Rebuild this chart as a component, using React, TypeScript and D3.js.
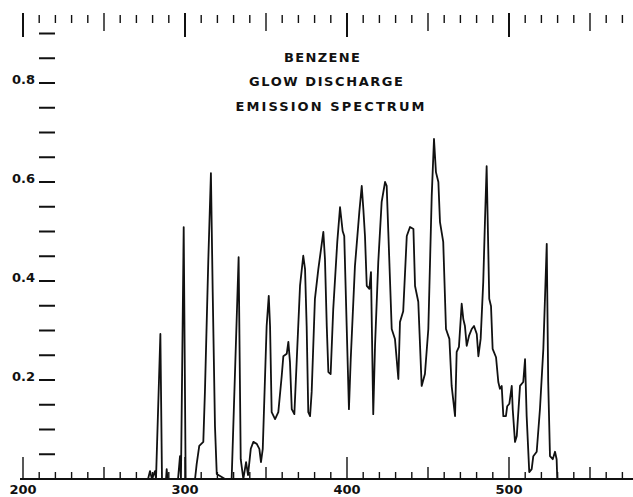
import React from "react";
import * as d3 from "d3";

// Wavelength (nm) of traced points of the emission trace
const wavelength = [
  200, 277.2, 278.4, 279.6, 281.5, 282.1, 284.8, 285.8, 288.3, 288.7, 289.2,
  295.7, 296.9, 297.5, 299.2, 300.4, 306.2, 307.2, 308.8, 311.3, 312.3, 314.4,
  316.0, 317.1, 318.5, 319.6, 324.7, 328.8, 333.1, 334.4, 336.0, 337.7, 338.9,
  340.6, 342.2, 344.3, 345.9, 346.9, 348.0, 350.4, 351.7, 352.5, 353.5, 355.6,
  357.6, 359.7, 360.7, 362.8, 363.8, 364.8, 365.9, 367.5, 369.0, 371.0, 373.0,
  374.1, 375.1, 376.1, 377.2, 378.2, 380.2, 382.3, 385.4, 386.4, 387.5, 388.5,
  389.9, 391.5, 394.0, 395.7, 397.3, 398.3, 399.8, 401.2, 402.3, 404.9, 407.6,
  409.1, 410.1, 411.1, 412.2, 413.8, 414.8, 416.2, 417.3, 419.3, 421.4, 423.5,
  424.5, 425.5, 427.6, 429.6, 431.7, 432.7, 434.7, 436.9, 438.9, 441.0, 442.0,
  444.0, 446.1, 448.1, 450.2, 452.3, 453.7, 454.9, 456.4, 457.4, 459.4, 461.1,
  463.2, 464.6, 466.7, 467.7, 469.1, 470.8, 471.8, 472.8, 473.9, 475.3, 477.0,
  478.4, 480.1, 481.1, 482.5, 484.1, 485.2, 486.2, 487.2, 487.8, 488.9, 489.9,
  492.0, 493.4, 494.4, 495.5, 496.5, 498.1, 498.9, 500.2, 501.7, 502.3, 503.7,
  504.8, 506.8, 508.8, 509.9, 510.9, 512.5, 514.0, 515.0, 517.1, 519.1, 521.2,
  523.3, 524.2, 525.3, 527.0, 528.4, 529.4, 529.8, 576.5,
];

// Relative intensity at each traced point
const intensity = [
  0, 0, 0.016, 0, 0.016, 0, 0.293, 0, 0, 0.02, 0,
  0, 0.046, 0, 0.509, 0, 0, 0.03, 0.067, 0.075, 0.176, 0.444,
  0.618, 0.378, 0.107, 0.01, 0, 0, 0.448, 0.04, 0, 0.034, 0.008,
  0.061, 0.075, 0.071, 0.061, 0.034, 0.061, 0.309, 0.37, 0.309, 0.135, 0.121,
  0.135, 0.208, 0.248, 0.253, 0.277, 0.236, 0.141, 0.131, 0.242, 0.39, 0.451,
  0.424, 0.309, 0.135, 0.127, 0.176, 0.364, 0.424, 0.499, 0.444, 0.309, 0.216,
  0.212, 0.343, 0.479, 0.549, 0.501, 0.491, 0.309, 0.141, 0.242, 0.43, 0.539,
  0.592, 0.545, 0.491, 0.39, 0.384, 0.418, 0.131, 0.269, 0.438, 0.56, 0.6,
  0.592, 0.499, 0.303, 0.283, 0.202, 0.317, 0.339, 0.491, 0.509, 0.505, 0.39,
  0.358, 0.188, 0.212, 0.303, 0.572, 0.687, 0.62, 0.6, 0.519, 0.479, 0.303,
  0.283, 0.188, 0.127, 0.257, 0.267, 0.354, 0.323, 0.309, 0.269, 0.289, 0.303,
  0.309, 0.293, 0.248, 0.283, 0.398, 0.525, 0.632, 0.465, 0.364, 0.349, 0.263,
  0.246, 0.196, 0.182, 0.188, 0.127, 0.127, 0.147, 0.152, 0.188, 0.141, 0.075,
  0.087, 0.188, 0.196, 0.242, 0.127, 0.014, 0.02, 0.046, 0.055, 0.141, 0.263,
  0.475, 0.196, 0.046, 0.04, 0.055, 0.04, 0, 0,
];

const xTickLabels = [200, 300, 400, 500];
const yTickLabels = [0.2, 0.4, 0.6, 0.8];
const titleLines = ["BENZENE", "GLOW DISCHARGE", "EMISSION SPECTRUM"];

const W = 633;
const H = 497;
const FONT = "'DejaVu Sans', 'Liberation Sans', sans-serif";

export default function App() {
  const x = d3.scaleLinear().domain([200, 500]).range([23, 509]);
  const y = d3.scaleLinear().domain([0, 0.9]).range([479, 479 - 0.9 * 495]);

  const pts: [number, number][] = wavelength.map((w, i) => [w, intensity[i]]);
  const line = d3
    .line<[number, number]>()
    .x((d) => x(d[0]))
    .y((d) => y(d[1]))
    .curve(d3.curveLinear);

  const rulerTicks = d3.range(200, 577, 10);
  const yTicks = d3.range(1, 19).map((k) => k * 0.05);
  const baseY = y(0);

  const titleX = [322, 326, 330];
  const titleY = [62, 86, 111];
  const titleLen = [76, 154, 189];

  return (
    <svg
      width={W}
      height={H}
      viewBox={`0 0 ${W} ${H}`}
      style={{ position: "absolute", left: 0, top: 0, background: "#fff" }}
    >
      <rect x={0} y={0} width={W} height={H} fill="#fff" />

      {/* top ruler */}
      {rulerTicks.map((v) => {
        const major = v % 100 === 0;
        const mid = !major && v % 50 === 0;
        const y1 = major ? 13 : mid ? 13 : 15;
        const y2 = major ? 37 : mid ? 31 : 23;
        return (
          <line
            key={"rt" + v}
            x1={x(v)}
            x2={x(v)}
            y1={y1}
            y2={y2}
            stroke="#111"
            strokeWidth={major ? 2 : 1.4}
          />
        );
      })}

      {/* left ticks */}
      {yTicks.map((v) => (
        <line
          key={"yt" + v.toFixed(2)}
          x1={39}
          x2={55}
          y1={y(v)}
          y2={y(v)}
          stroke="#111"
          strokeWidth={2}
        />
      ))}
      {yTickLabels.map((v) => (
        <text
          key={"yl" + v}
          x={35}
          y={y(v) + 1}
          textAnchor="end"
          fontFamily={FONT}
          fontWeight="bold"
          fontSize={13}
          fill="#111"
        >
          {v.toFixed(1)}
        </text>
      ))}

      {/* bottom axis */}
      <line x1={20} x2={W} y1={baseY} y2={baseY} stroke="#111" strokeWidth={2.2} />
      {rulerTicks.map((v) => {
        const major = v % 100 === 0;
        const mid = !major && v % 50 === 0;
        const h = major ? 22 : mid ? 12 : 7;
        return (
          <line
            key={"bt" + v}
            x1={x(v)}
            x2={x(v)}
            y1={baseY}
            y2={baseY - h}
            stroke="#111"
            strokeWidth={1.4}
          />
        );
      })}
      {xTickLabels.map((v) => (
        <text
          key={"xl" + v}
          x={x(v)}
          y={494}
          textAnchor="middle"
          fontFamily={FONT}
          fontWeight="bold"
          fontSize={13}
          fill="#111"
        >
          {v}
        </text>
      ))}

      {/* title */}
      {titleLines.map((t, i) => (
        <text
          key={"t" + i}
          x={titleX[i]}
          y={titleY[i]}
          textAnchor="middle"
          fontFamily={FONT}
          fontWeight="bold"
          fontSize={13}
          textLength={titleLen[i]}
          lengthAdjust="spacing"
          fill="#111"
        >
          {t}
        </text>
      ))}

      {/* spectrum */}
      <path
        d={line(pts) || ""}
        fill="none"
        stroke="#111"
        strokeWidth={1.8}
        strokeLinejoin="round"
      />
    </svg>
  );
}
